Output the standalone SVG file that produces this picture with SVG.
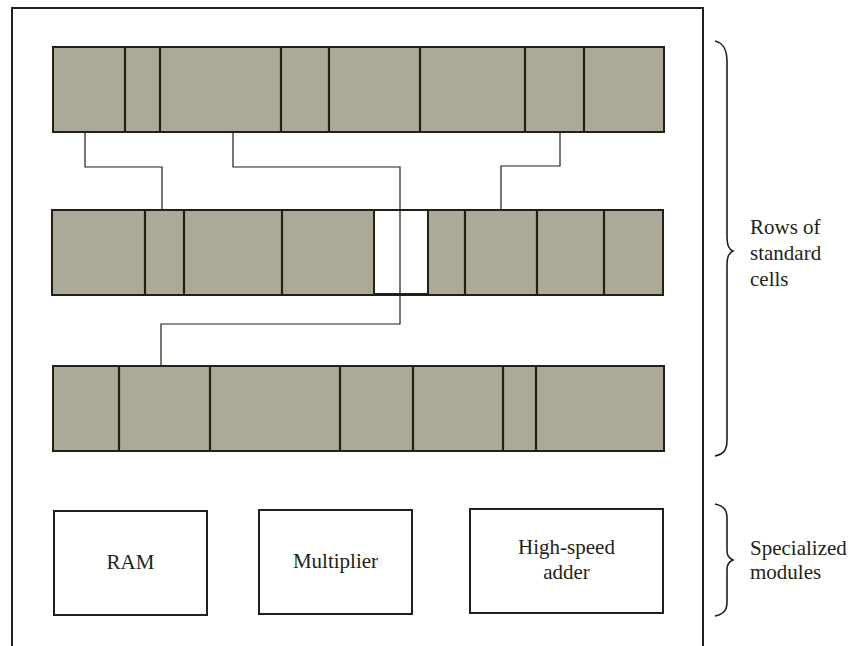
<svg xmlns="http://www.w3.org/2000/svg" width="853" height="646" viewBox="0 0 853 646">
<style>
.row{fill:#ada999;stroke:#231f14;stroke-width:2}
.div{stroke:#231f14;stroke-width:2.2;fill:none}
.wire{stroke:#231f14;stroke-width:1.2;fill:none}
.mod{fill:#fff;stroke:#231f14;stroke-width:2}
.brace{fill:none;stroke:#231f14;stroke-width:1.6}
.t{font-family:'Liberation Serif','Times New Roman',serif;font-size:21px;fill:#231f14}
</style>
<rect width="853" height="646" fill="#fff"/>
<g id="frame"><path d="M12,650 V8 H703 V650" fill="none" stroke="#231f14" stroke-width="2"/></g>
<g id="row1">
<rect class="row" x="53" y="47" width="611" height="85"/>
<path class="div" d="M125,47V132M160,47V132M281,47V132M329,47V132M420,47V132M525,47V132M584,47V132"/>
</g>
<g id="row2">
<rect class="row" x="52" y="210" width="611" height="85"/>
<rect x="374" y="210" width="54" height="84" fill="#fff" stroke="#231f14" stroke-width="2"/>
<path class="div" d="M145,210V295M184,210V295M282,210V295M465,210V295M537,210V295M604,210V295"/>
</g>
<g id="row3">
<rect class="row" x="53" y="366" width="611" height="85"/>
<path class="div" d="M119,366V451M210,366V451M340,366V451M413,366V451M503,366V451M536,366V451"/>
</g>
<g id="connectors">
<path class="wire" d="M85,132V167H162V210"/>
<path class="wire" d="M233,132V167H400V324H161V366"/>
<path class="wire" d="M560,132V166H501V210"/>
</g>
<g id="ram"><rect class="mod" x="54" y="511" width="153" height="104"/><text class="t" x="130.5" y="569" text-anchor="middle">RAM</text></g>
<g id="multiplier"><rect class="mod" x="259" y="510" width="153" height="104"/><text class="t" x="335.5" y="568" text-anchor="middle">Multiplier</text></g>
<g id="adder"><rect class="mod" x="470" y="509" width="193" height="104"/><text class="t" x="566.5" y="554" text-anchor="middle">High-speed</text><text class="t" x="566.5" y="579" text-anchor="middle">adder</text></g>
<g id="brace-rows">
<path class="brace" d="M715,41 C724,43 727,50 727,62 V236 C727,246 729,249 733,251 C729,253 727,256 727,266 V440 C727,450 724,454 715,456"/>
<text class="t" x="750" y="234">Rows of</text><text class="t" x="750" y="260">standard</text><text class="t" x="750" y="286">cells</text>
</g>
<g id="brace-modules">
<path class="brace" d="M715,504 C724,506 727,510 727,518 V550 C727,556 729,558 733,560 C729,562 727,564 727,570 V602 C727,610 724,614 715,616"/>
<text class="t" x="750" y="555">Specialized</text><text class="t" x="750" y="579">modules</text>
</g>
</svg>
